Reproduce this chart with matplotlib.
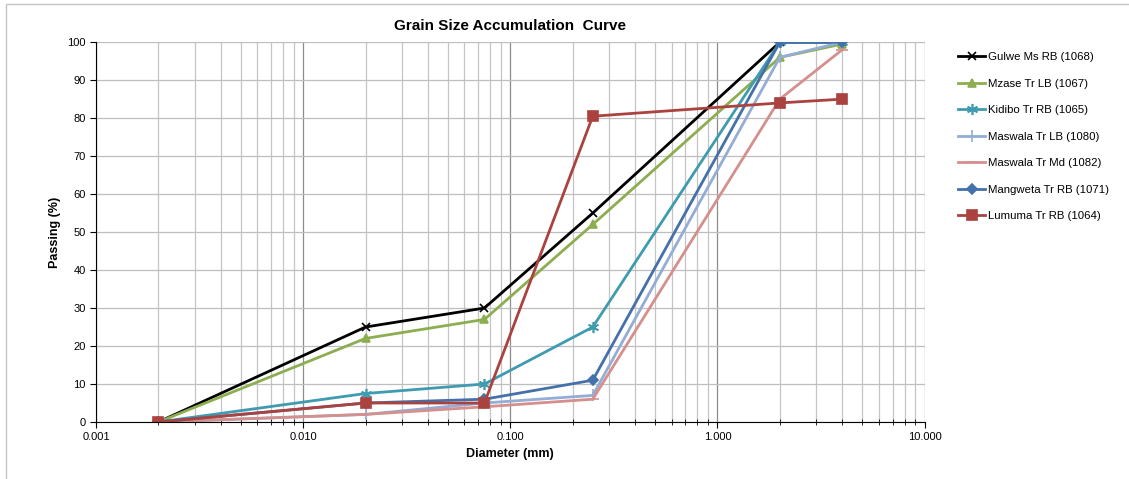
import matplotlib
matplotlib.use("Agg")
import matplotlib.pyplot as plt
from matplotlib.patches import Rectangle
from matplotlib.ticker import FixedLocator, FuncFormatter, NullFormatter, LogLocator

diameters = [0.002, 0.02, 0.075, 0.25, 2.0, 4.0]

gulwe = [0, 25, 30, 55, 100, 100]
mzase = [0, 22, 27, 52, 96, 99.5]
kidibo = [0, 7.5, 10, 25, 100, 100]
maswala_lb = [0, 2, 5, 7, 96, 100]
maswala_md = [0, 2, 4, 6, 85, 98]
mangweta = [0, 5, 6, 11, 100, 100]
lumuma = [0, 5, 5, 80.5, 84, 85]

series = [
    ("Gulwe Ms RB (1068)", gulwe, "black", "x", 6),
    ("Mzase Tr LB (1067)", mzase, "#8DAE50", "^", 6),
    ("Kidibo Tr RB (1065)", kidibo, "#3E9BB0", (6, 2, 0), 8),
    ("Maswala Tr LB (1080)", maswala_lb, "#93ADD6", "|", 8),
    ("Maswala Tr Md (1082)", maswala_md, "#D58F8D", "_", 8),
    ("Mangweta Tr RB (1071)", mangweta, "#4471AB", "D", 5),
    ("Lumuma Tr RB (1064)", lumuma, "#AA4340", "s", 7),
]

plt.rcParams['font.family'] = ['Liberation Sans', 'DejaVu Sans']

fig = plt.figure(figsize=(11.29, 4.79), dpi=100)
ax = fig.add_axes([0.085, 0.119, 0.734, 0.793])

# chart frame: only its left and top edges fall inside the picture
fig.patches.append(Rectangle((6 / 1129, -0.1), 1.1, 1.1 - 4 / 479, transform=fig.transFigure,
                             fill=False, edgecolor="#C4C4C4", linewidth=1.0))

for name, vals, col, mk, ms in series:
    ax.plot(diameters, vals, color=col, linewidth=2.0, marker=mk, markersize=ms,
            markeredgecolor=col, markerfacecolor=col, markeredgewidth=1.2, label=name)

ax.set_xscale("log")
ax.set_xlim(0.001, 10)
ax.set_ylim(0, 100)
ax.set_yticks(range(0, 101, 10))
ax.xaxis.set_major_locator(FixedLocator([0.001, 0.01, 0.1, 1, 10]))
ax.xaxis.set_major_formatter(FuncFormatter(lambda v, p: "%.3f" % v))
ax.xaxis.set_minor_locator(LogLocator(base=10, subs=range(2, 10)))
ax.xaxis.set_minor_formatter(NullFormatter())

ax.grid(True, which="major", axis="y", color="#BEBEBE", linewidth=0.9)
ax.grid(True, which="major", axis="x", color="#8C8C8C", linewidth=0.9)
ax.grid(True, which="minor", axis="x", color="#C4C4C4", linewidth=0.9)
ax.set_axisbelow(True)

for s in ["top", "right"]:
    ax.spines[s].set_visible(False)
ax.spines["left"].set_color("black")
ax.spines["bottom"].set_color("black")
ax.tick_params(axis="both", which="major", labelsize=8, direction="out", length=4)
ax.tick_params(axis="x", which="minor", direction="inout", length=5)
ax.tick_params(axis="y", which="major", length=4)

ax.set_xlabel("Diameter (mm)", fontsize=9, fontweight="bold")
ax.set_ylabel("Passing (%)", fontsize=9, fontweight="bold")
ax.set_title("Grain Size Accumulation  Curve", fontsize=11, fontweight="bold", pad=9)

leg = ax.legend(loc="upper left", bbox_to_anchor=(1.028, 1.0), frameon=False,
                fontsize=8.2, labelspacing=1.45, handlelength=2.4, handletextpad=0.2)

fig.savefig("out.png", dpi=100)
